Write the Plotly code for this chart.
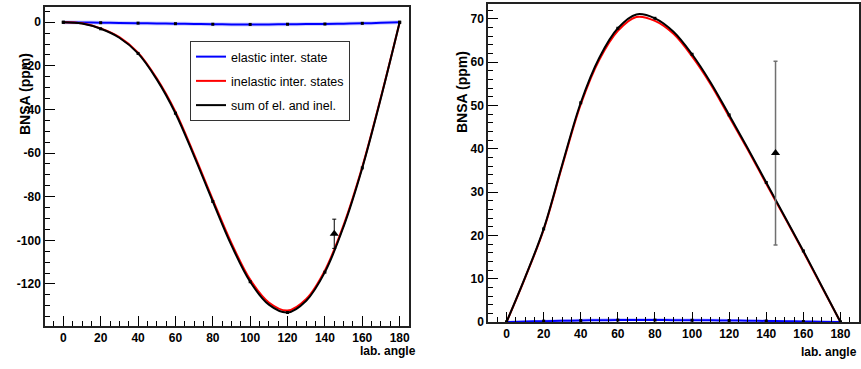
import plotly.graph_objects as go

# ---------------- data ----------------
# curve samples (every 10 deg); markers sit on every second sample (every 20 deg)
angles = [0, 10, 20, 30, 40, 50, 60, 70, 80, 90, 100, 110, 120, 130, 140, 150, 160, 170, 180]

# left panel
left_elastic = [0, -0.1, -0.2, -0.3, -0.4, -0.52, -0.65, -0.78, -0.9, -0.97, -1.0,
                -0.97, -0.9, -0.85, -0.8, -0.65, -0.5, -0.27, 0]
left_inelastic = [0, -0.5, -2.8, -6.8, -13.9, -25.7, -41.0, -60.6, -81.3, -101.3, -118.0,
                  -128.5, -132.2, -126.9, -113.8, -93.0, -66.3, -34.3, 0]
left_sum = [0, -0.6, -3.0, -7.1, -14.3, -26.2, -41.7, -61.4, -82.2, -102.3, -119.0,
            -129.5, -133.1, -127.7, -114.6, -93.7, -66.8, -34.6, 0]
left_exp_x = [145]
left_exp_y = [-97.0]
left_exp_err = [6.7]

# right panel
right_elastic = [0, 0.1, 0.2, 0.28, 0.35, 0.4, 0.45, 0.46, 0.45, 0.43, 0.4,
                 0.38, 0.35, 0.3, 0.25, 0.19, 0.12, 0.06, 0]
right_elastic_band = [0, 0.3, 0.5, 0.65, 0.75, 0.8, 0.85, 0.86, 0.85, 0.83, 0.8,
                      0.75, 0.7, 0.6, 0.5, 0.4, 0.3, 0.15, 0]
right_inelastic = [0, 10.2, 21.3, 36.0, 50.2, 60.5, 67.2, 70.4, 69.5, 66.5, 61.3,
                   54.9, 47.4, 39.8, 31.9, 24.1, 16.2, 8.1, 0]
right_sum = [0, 10.3, 21.5, 36.3, 50.6, 61.0, 67.8, 71.0, 70.1, 67.0, 61.8,
             55.3, 47.8, 40.1, 32.2, 24.3, 16.4, 8.2, 0]
right_exp_x = [145]
right_exp_y = [39.0]
right_exp_err = [21.2]

x_tickvals = [0, 20, 40, 60, 80, 100, 120, 140, 160, 180]
x_ticktext = ["0", "20", "40", "60", "80", "100", "120", "140", "160", "180"]
left_y_tickvals = [0, -20, -40, -60, -80, -100, -120]
left_y_ticktext = ["0", "-20", "-40", "-60", "-80", "-100", "-120"]
right_y_tickvals = [0, 10, 20, 30, 40, 50, 60, 70]
right_y_ticktext = ["0", "10", "20", "30", "40", "50", "60", "70"]

labels = ["elastic inter. state", "inelastic inter. states", "sum of el. and inel."]
colors = ["#0000ff", "#ff0000", "#000000"]

# ---------------- figure ----------------
fig = go.Figure()
mk = dict(symbol="square", size=3, color="black")


def curve(x, y, color, xa, ya, name=None, group=None, legend=False):
    fig.add_trace(go.Scatter(x=x, y=y, mode="lines", name=name, legendgroup=group, showlegend=legend,
                             line=dict(color=color, width=2, shape="spline"),
                             xaxis=xa, yaxis=ya))


def points(x, y, xa, ya):
    fig.add_trace(go.Scatter(x=x[::2], y=y[::2], mode="markers", marker=mk, showlegend=False,
                             xaxis=xa, yaxis=ya))


# left panel
fig.add_trace(go.Scatter(x=angles, y=left_elastic, mode="lines",
                         line=dict(color="rgba(80,80,255,0.25)", width=4, shape="spline"),
                         showlegend=False, hoverinfo="skip", xaxis="x", yaxis="y"))
curve(angles, left_elastic, colors[0], "x", "y", labels[0], "a", True)
curve(angles, left_inelastic, colors[1], "x", "y", labels[1], "b", True)
curve(angles, left_sum, colors[2], "x", "y", labels[2], "c", True)
points(angles, left_elastic, "x", "y")
points(angles, left_sum, "x", "y")
fig.add_trace(go.Scatter(x=left_exp_x, y=left_exp_y, mode="markers", showlegend=False,
                         marker=dict(symbol="triangle-up", size=8, color="black"),
                         error_y=dict(type="data", array=left_exp_err, color="black", thickness=1, width=2),
                         xaxis="x", yaxis="y"))

# right panel
fig.add_trace(go.Scatter(x=angles, y=right_elastic, mode="lines", line=dict(width=0, shape="spline"),
                         showlegend=False, hoverinfo="skip", xaxis="x2", yaxis="y2"))
fig.add_trace(go.Scatter(x=angles, y=right_elastic_band, mode="lines", line=dict(width=0, shape="spline"),
                         fill="tonexty", fillcolor="rgba(90,90,255,0.35)",
                         showlegend=False, hoverinfo="skip", xaxis="x2", yaxis="y2"))
curve(angles, right_elastic, colors[0], "x2", "y2")
curve(angles, right_inelastic, colors[1], "x2", "y2")
curve(angles, right_sum, colors[2], "x2", "y2")
points(angles, right_elastic, "x2", "y2")
points(angles, right_sum, "x2", "y2")
fig.add_trace(go.Scatter(x=right_exp_x, y=right_exp_y, mode="markers", showlegend=False,
                         marker=dict(symbol="triangle-up", size=8, color="black"),
                         error_y=dict(type="data", array=right_exp_err, color="#707070", thickness=1.5, width=2),
                         xaxis="x2", yaxis="y2"))

W, H = 861, 369
tickfont = dict(family="Liberation Sans, Arial", size=12, color="black", weight="bold")


def xax(domain, rng, anchor):
    return dict(domain=domain, range=rng, showgrid=False, zeroline=False, showline=True, mirror=True,
                linecolor="#222", linewidth=1.5, ticks="inside", ticklen=10, tickwidth=1, tickcolor="black",
                tickmode="array", tickvals=x_tickvals, ticktext=x_ticktext, tickfont=tickfont,
                ticklabelstandoff=0, anchor=anchor, automargin=False,
                minor=dict(dtick=5, ticks="inside", ticklen=5, tickcolor="black", tickwidth=1, showgrid=False))


def yax(domain, rng, tv, tt, minor_dt, anchor):
    return dict(domain=domain, range=rng, showgrid=False, zeroline=False, showline=True, mirror=True,
                linecolor="#222", linewidth=1.5, ticks="inside", ticklen=10, tickwidth=1, tickcolor="black",
                tickmode="array", tickvals=tv, ticktext=tt, tickfont=tickfont, anchor=anchor, automargin=False,
                minor=dict(dtick=minor_dt, ticks="inside", ticklen=5, tickcolor="black", tickwidth=1, showgrid=False))


lx = [45 / W, 409 / W]
ly = [1 - 326 / H, 1 - 7 / H]
rx = [488 / W, 859 / W]
ry = [1 - 322 / H, 1 - 4 / H]

titlefont = dict(family="Liberation Sans, Arial", size=14, color="black", weight="bold")
xtitlefont = dict(family="Liberation Sans, Arial", size=12, color="black", weight="bold")

fig.update_layout(
    width=W, height=H,
    margin=dict(l=0, r=0, t=0, b=0, autoexpand=False),
    paper_bgcolor="white", plot_bgcolor="white",
    xaxis=xax(lx, [-9.8, 185], "y"),
    yaxis=yax(ly, [-139.3, 7], left_y_tickvals, left_y_ticktext, 5, "x"),
    xaxis2=xax(rx, [-10, 190], "y2"),
    yaxis2=yax(ry, [0, 73.4], right_y_tickvals, right_y_ticktext, 2, "x2"),
    showlegend=True,
    legend=dict(x=190 / W, y=1 - 41 / H, xanchor="left", yanchor="top",
                bgcolor="white", bordercolor="#333", borderwidth=1,
                font=dict(family="Liberation Sans, Arial", size=12.5, color="black"),
                tracegroupgap=5, itemwidth=30),
    annotations=[
        dict(text="BNSA (ppm)", textangle=-90, xref="paper", yref="paper", x=15 / W, y=1 - 51 / H,
             showarrow=False, font=titlefont),
        dict(text="BNSA (ppm)", textangle=-90, xref="paper", yref="paper", x=462 / W, y=1 - 49 / H,
             showarrow=False, font=titlefont),
        dict(text="lab. angle", xref="paper", yref="paper", x=418 / W, y=1 - 351 / H, xanchor="right",
             yanchor="middle", showarrow=False, font=xtitlefont),
        dict(text="lab. angle", xref="paper", yref="paper", x=859 / W, y=1 - 352 / H, xanchor="right",
             yanchor="middle", showarrow=False, font=xtitlefont),
    ],
)

fig.write_html("out.html", config={"displayModeBar": False},
               post_script="document.body.style.margin='0';document.body.style.overflow='hidden';")
